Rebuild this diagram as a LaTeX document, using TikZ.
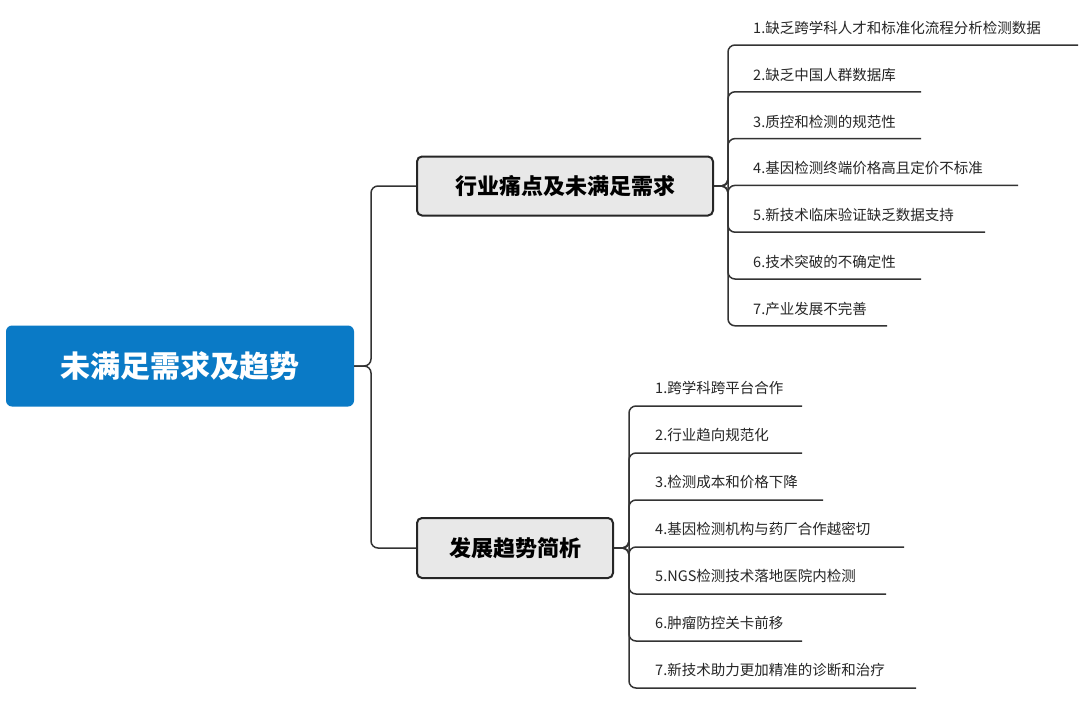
\documentclass[tikz,border=0pt]{standalone}
\usepackage{fontspec}
\setmainfont{Noto Sans CJK SC}
\begin{document}
\begin{tikzpicture}[x=1pt,y=-1pt,
  line/.style={draw=black!80,line width=1.5pt,rounded corners=7pt},
  branch/.style={draw=black!85,line width=2pt,fill=black!9,rounded corners=5pt,font=\fontsize{22}{26}\selectfont\bfseries,inner sep=0pt},
  leaf/.style={font=\fontsize{14.5}{17}\selectfont,inner sep=0pt,anchor=west,text=black!85}]
\useasboundingbox[fill=white] (0,0) rectangle (1080,707);
\definecolor{rootblue}{HTML}{0A7AC6}
\node[fill=rootblue,rounded corners=6pt,minimum width=348pt,minimum height=81pt,inner sep=0pt,text=white,font=\fontsize{30}{34}\selectfont\bfseries] (r) at (180,366) {未满足需求及趋势};
\node[branch,minimum width=296pt,minimum height=59pt] (b1) at (565,186) {行业痛点及未满足需求};
\node[branch,minimum width=196pt,minimum height=60pt] (b2) at (515,548) {发展趋势简析};
\draw[line] (r.east) -- (371,366) |- (b1.west);
\draw[line] (r.east) -- (371,366) |- (b2.west);
\foreach \i/\t/\e in {1/1.缺乏跨学科人才和标准化流程分析检测数据/1078,2/2.缺乏中国人群数据库/921,3/3.质控和检测的规范性/921,4/4.基因检测终端价格高且定价不标准/1018,5/5.新技术临床验证缺乏数据支持/985,6/6.技术突破的不确定性/921,7/7.产业发展不完善/887}{
  \pgfmathsetmacro{\ty}{28+46.8*(\i-1)}
  \node[leaf] (a\i) at (753,\ty) {\t};
  \coordinate (ae\i) at (\e,\ty+17);
  \draw[line] (b1.east) -- (728,186) |- (ae\i);
}
\foreach \i/\t/\e in {1/1.跨学科跨平台合作/802,2/2.行业趋向规范化/802,3/3.检测成本和价格下降/823,4/4.基因检测机构与药厂合作越密切/904,5/5.NGS检测技术落地医院内检测/886,6/6.肿瘤防控关卡前移/802,7/7.新技术助力更加精准的诊断和治疗/916}{
  \pgfmathsetmacro{\ty}{388+47*(\i-1)}
  \node[leaf] (c\i) at (655,\ty) {\t};
  \coordinate (ce\i) at (\e,\ty+18);
  \draw[line] (b2.east) -- (629,548) |- (ce\i);
}
\end{tikzpicture}
\end{document}
